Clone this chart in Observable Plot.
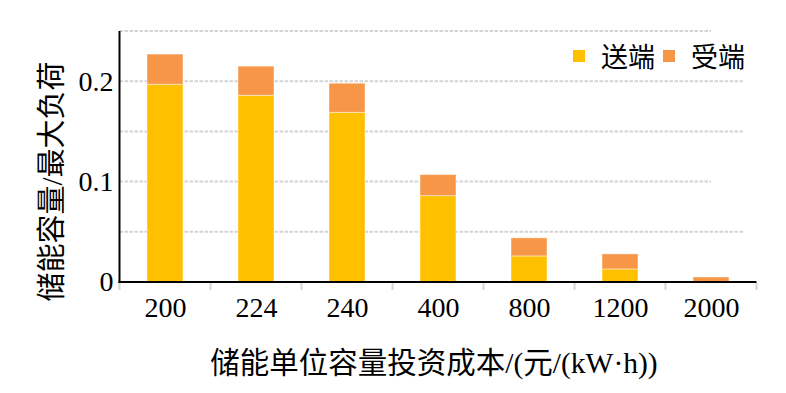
<!DOCTYPE html>
<html>
<head>
<meta charset="utf-8">
<script src="https://cdn.jsdelivr.net/npm/d3@7"></script>
<script src="https://cdn.jsdelivr.net/npm/@observablehq/plot@0.6"></script>
<style>
  html, body { margin: 0; padding: 0; background: #fff; }
  #wrap { position: relative; width: 786px; height: 393px; }
  .legend { position: absolute; left: 573px; top: 36px; display: flex; align-items: center;
    font-family: "Liberation Serif", "Noto Sans CJK SC", serif; font-size: 27px; color: #000; }
  .legend .sw { width: 12px; height: 12px; display: inline-block; margin-right: 16px; }
  .legend .item { display: flex; align-items: center; margin-right: 8px; }
</style>
</head>
<body>
<div id="wrap"></div>
<script>
// Data
const costs = ["200", "224", "240", "400", "800", "1200", "2000"];
const sendValues = [0.197, 0.186, 0.169, 0.086, 0.026, 0.013, 0.0];
const recvValues = [0.030, 0.029, 0.029, 0.021, 0.018, 0.015, 0.005];
const seriesNames = ["送端", "受端"];
const seriesColors = ["#FFC000", "#F79646"];
const yTicks = [0, 0.1, 0.2];
const gridLong = [0.05, 0.15, 0.2];
const gridShort = [0.1, 0.25];
const xTitle = "储能单位容量投资成本/(元/(kW·h))";
const yTitle = "储能容量/最大负荷";

const rows = [];
costs.forEach((c, i) => {
  rows.push({cost: c, series: seriesNames[0], value: sendValues[i]});
  rows.push({cost: c, series: seriesNames[1], value: recvValues[i]});
});

const FONT = '"Liberation Serif", "Noto Sans CJK SC", serif';

const plot = Plot.plot({
  width: 786,
  height: 393,
  marginLeft: 119,
  marginRight: 29,
  marginTop: 31,
  marginBottom: 111,
  style: {fontFamily: FONT, fontSize: "28px", background: "#fff", color: "#000"},
  x: {domain: costs, paddingInner: 0.6, paddingOuter: 0.3, label: null},
  y: {domain: [0, 0.25], label: null},
  color: {domain: seriesNames, range: seriesColors},
  marks: [
    Plot.barY(rows, {x: "cost", y: "value", fill: "series", stroke: "#ffffff", strokeOpacity: 0.45, strokeWidth: 1}),
    Plot.axisY(yTicks, {tickSize: 0, tickPadding: 6, label: null,
      tickFormat: d => d === 0 ? "0" : d.toFixed(1), fontSize: 28}),
    Plot.axisX({tickSize: 0, tickPadding: 15, label: null, fontSize: 28})
  ]
});

document.getElementById("wrap").appendChild(plot);

// Extra axis decorations using Plot's own scales
const xs = plot.scale("x");
const ys = plot.scale("y");
const svg = d3.select(plot);
const step = xs.step, bw = xs.bandwidth;
const y0 = ys.apply(0), yTop = ys.apply(0.25);
const bounds = costs.map(c => xs.apply(c) - (step - bw) / 2);
bounds.push(bounds[bounds.length - 1] + step);
const xEnd = bounds[bounds.length - 1];
const lastCenter = xs.apply(costs[costs.length - 1]) + bw / 2;

// dashed grid (drawn beneath bars)
const gridG = svg.insert("g", ":first-child");
const gridData = gridLong.map(v => ({v, x2: xEnd - 12})).concat(gridShort.map(v => ({v, x2: lastCenter})));
gridG.selectAll("line").data(gridData).join("line")
  .attr("x1", bounds[0]).attr("x2", d => d.x2)
  .attr("y1", d => ys.apply(d.v)).attr("y2", d => ys.apply(d.v))
  .attr("stroke", "#d4d4d4").attr("stroke-width", 2).attr("stroke-dasharray", "3.5,1.5");

svg.append("g").selectAll("line").data(bounds).join("line")
  .attr("x1", d => d).attr("x2", d => d)
  .attr("y1", y0 + 1).attr("y2", y0 + 8)
  .attr("stroke", "#d4d4d4").attr("stroke-width", 2);

svg.append("line")
  .attr("x1", bounds[0]).attr("x2", bounds[0])
  .attr("y1", yTop).attr("y2", y0 + 1)
  .attr("stroke", "#000").attr("stroke-width", 2);

svg.append("line")
  .attr("x1", bounds[0] - 1).attr("x2", xEnd)
  .attr("y1", y0).attr("y2", y0)
  .attr("stroke", "#000").attr("stroke-width", 2);

svg.append("text")
  .attr("x", (bounds[0] + xEnd) / 2 - 4)
  .attr("y", 373)
  .attr("text-anchor", "middle")
  .attr("font-family", FONT).attr("font-size", 29.5)
  .attr("fill", "#000")
  .text(xTitle);

svg.append("text")
  .attr("transform", `translate(62, ${(yTop + y0) / 2 + 25}) rotate(-90)`)
  .attr("text-anchor", "middle")
  .attr("font-family", FONT).attr("font-size", 29)
  .attr("fill", "#000")
  .text(yTitle);

// Legend
const legend = document.createElement("div");
legend.className = "legend";
seriesNames.forEach((n, i) => {
  const item = document.createElement("span");
  item.className = "item";
  const sw = document.createElement("span");
  sw.className = "sw";
  sw.style.background = seriesColors[i];
  item.appendChild(sw);
  item.appendChild(document.createTextNode(n));
  legend.appendChild(item);
});
document.getElementById("wrap").appendChild(legend);
</script>
</body>
</html>
